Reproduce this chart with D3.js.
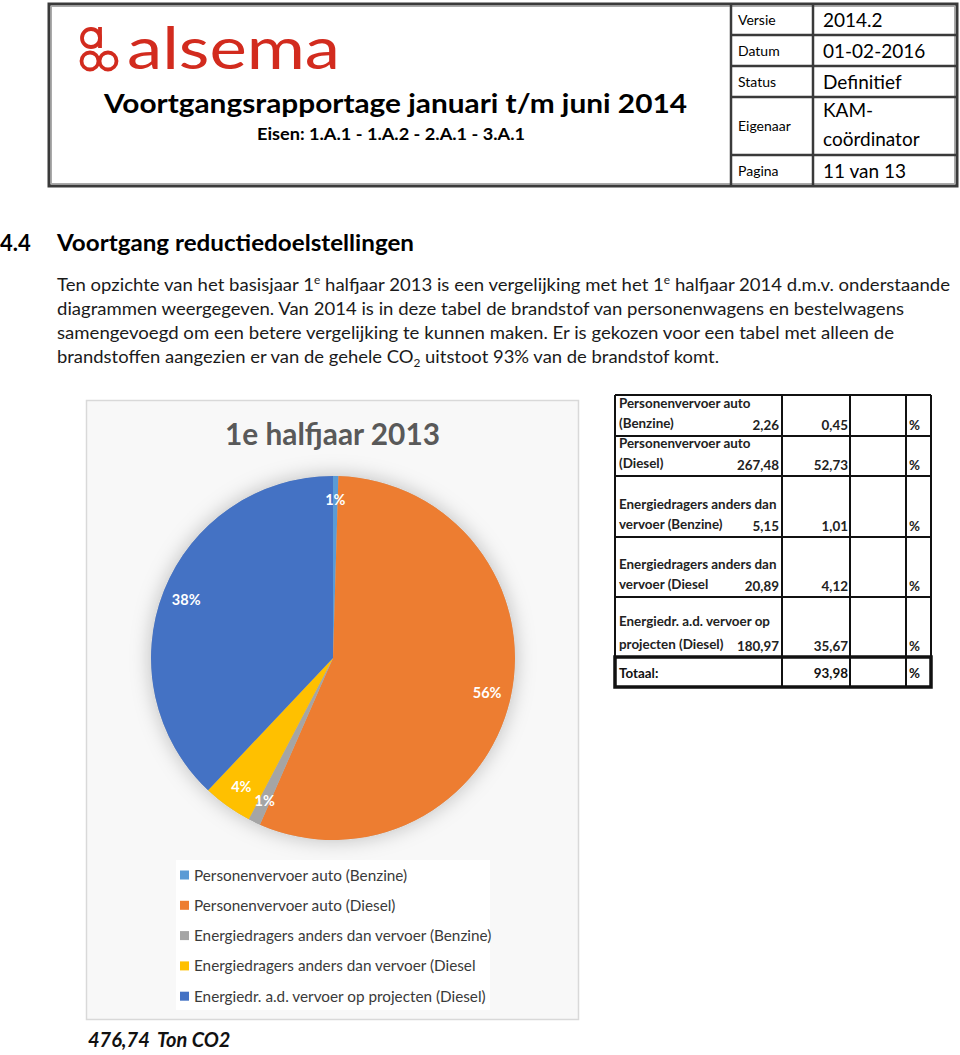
<!DOCTYPE html>
<html><head><meta charset="utf-8">
<script src="https://cdn.jsdelivr.net/npm/d3@7"></script>
<style>html,body{margin:0;padding:0;background:#fff;}svg{display:block;}</style>
</head><body>
<script>
// ---------- DATA ----------
const categories = [
  "Personenvervoer auto (Benzine)",
  "Personenvervoer auto (Diesel)",
  "Energiedragers anders dan vervoer (Benzine)",
  "Energiedragers anders dan vervoer (Diesel",
  "Energiedr. a.d. vervoer op projecten (Diesel)"
];
const tonValues = [2.26, 267.48, 5.15, 20.89, 180.97];
const pieLabels = ["1%", "56%", "1%", "4%", "38%"];
const colors = ["#5B9BD5", "#ED7D31", "#A5A5A5", "#FFC000", "#4472C4"];
const tableRowLabels = [
  ["Personenvervoer auto", "(Benzine)"],
  ["Personenvervoer auto", "(Diesel)"],
  ["Energiedragers anders dan", "vervoer (Benzine)"],
  ["Energiedragers anders dan", "vervoer (Diesel"],
  ["Energiedr. a.d. vervoer op", "projecten (Diesel)"]
];
const tableTons = ["2,26", "267,48", "5,15", "20,89", "180,97"];
const tablePcts = ["0,45", "52,73", "1,01", "4,12", "35,67"];
const tableTotal = "93,98";
const totalTon = "476,74";
const headerRows = [
  ["Versie", "2014.2"], ["Datum", "01-02-2016"], ["Status", "Definitief"],
  ["Eigenaar", "KAM-|coördinator"], ["Pagina", "11 van 13"]
];
const paragraphLines = [
  "Ten opzichte van het basisjaar 1|e| halfjaar 2013 is een vergelijking met het 1|e| halfjaar 2014 d.m.v. onderstaande",
  "diagrammen weergegeven. Van 2014 is in deze tabel de brandstof van personenwagens en bestelwagens",
  "samengevoegd om een betere vergelijking te kunnen maken. Er is gekozen voor een tabel met alleen de",
  "brandstoffen aangezien er van de gehele CO|2| uitstoot 93% van de brandstof komt."
];

// ---------- SVG ----------
const W = 960, H = 1055;
const svg = d3.select("body").append("svg").attr("width", W).attr("height", H);
const FONT = "Lato, 'Open Sans', sans-serif";

// ---------- HEADER ----------
const hdr = svg.append("g");
hdr.append("rect").attr("x", 49).attr("y", 4).attr("width", 908).attr("height", 182)
  .attr("fill", "#fff").attr("stroke", "#3a3a3a").attr("stroke-width", 3);
hdr.append("rect").attr("x", 51.5).attr("y", 6.5).attr("width", 903).attr("height", 177)
  .attr("fill", "none").attr("stroke", "#aaa").attr("stroke-width", 1);

// logo
const red = "#D22B1E";
const logo = hdr.append("g").attr("fill", "none").attr("stroke", red).attr("stroke-width", 3.8);
logo.append("circle").attr("cx", 91).attr("cy", 38).attr("r", 9);
logo.append("line").attr("x1", 100).attr("x2", 100).attr("y1", 27).attr("y2", 48);
logo.append("circle").attr("cx", 90).attr("cy", 61).attr("r", 8.5);
logo.append("circle").attr("cx", 108).attr("cy", 61).attr("r", 8.5);
hdr.append("text").attr("x", 127).attr("y", 69).attr("font-family", FONT).attr("font-size", 58)
  .attr("fill", red).attr("textLength", 213).attr("lengthAdjust", "spacingAndGlyphs").text("alsema");

hdr.append("text").attr("x", 104).attr("y", 113).attr("font-family", FONT).attr("font-weight", 700)
  .attr("font-size", 27).attr("fill", "#000").attr("textLength", 583).attr("lengthAdjust", "spacingAndGlyphs")
  .text("Voortgangsrapportage januari t/m juni 2014");
hdr.append("text").attr("x", 257).attr("y", 140).attr("font-family", FONT).attr("font-weight", 700)
  .attr("font-size", 17).attr("fill", "#000").attr("textLength", 268).attr("lengthAdjust", "spacingAndGlyphs")
  .text("Eisen: 1.A.1 - 1.A.2 - 2.A.1 - 3.A.1");

// header table
const hy = [4, 35, 66, 97, 155, 186];
const hx0 = 731, hx1 = 813, hx2 = 957;
const hl = hdr.append("g").attr("stroke", "#3a3a3a").attr("stroke-width", 2.5);
hl.append("line").attr("x1", hx0).attr("x2", hx0).attr("y1", hy[0]).attr("y2", hy[5]);
hl.append("line").attr("x1", hx1).attr("x2", hx1).attr("y1", hy[0]).attr("y2", hy[5]);
hl.selectAll("line.r").data(hy.slice(1, 5)).join("line").attr("class", "r")
  .attr("x1", hx0).attr("x2", hx2).attr("y1", d => d).attr("y2", d => d);
const hrows = hdr.selectAll("g.hr").data(headerRows).join("g").attr("class", "hr");
hrows.append("text").attr("x", 738)
  .attr("y", (d, i) => (hy[i] + hy[i + 1]) / 2 + 5)
  .attr("font-family", FONT).attr("font-size", 14).attr("fill", "#000").text(d => d[0]);
hrows.each(function (d, i) {
  const parts = d[1].split("|");
  const g = d3.select(this);
  const mid = (hy[i] + hy[i + 1]) / 2;
  parts.forEach((p, k) => {
    g.append("text").attr("x", 823).attr("y", parts.length === 1 ? mid + 7 : (k === 0 ? 117 : 146))
      .attr("font-family", FONT).attr("font-size", 19).attr("fill", "#000").text(p);
  });
});

// ---------- SECTION HEADING + PARAGRAPH ----------
svg.append("text").attr("x", 0).attr("y", 251).attr("font-family", FONT).attr("font-weight", 700)
  .attr("font-size", 22).attr("fill", "#000").text("4.4");
svg.append("text").attr("x", 57).attr("y", 251).attr("font-family", FONT).attr("font-weight", 700)
  .attr("font-size", 22).attr("fill", "#000").attr("textLength", 357).attr("lengthAdjust", "spacingAndGlyphs")
  .text("Voortgang reductiedoelstellingen");

const lineEnds = [950, 904, 894, 719];
const lineBase = [291, 315, 339, 363];
paragraphLines.forEach((ln, i) => {
  const t = svg.append("text").attr("x", 57).attr("y", lineBase[i]).attr("font-family", FONT)
    .attr("font-size", 17).attr("fill", "#1a1a1a")
    .attr("textLength", lineEnds[i] - 57).attr("lengthAdjust", "spacingAndGlyphs");
  const segs = ln.split("|");
  segs.forEach((s, k) => {
    if (k % 2 === 1) {
      const isSub = s === "2";
      t.append("tspan").attr("font-size", 11).attr("dy", isSub ? 4 : -7).text(s);
    } else {
      const ts = t.append("tspan").text(s);
      if (k > 0) { const prev = segs[k - 1]; ts.attr("dy", prev === "2" ? -4 : 7); }
    }
  });
});

// ---------- PIE CHART ----------
const defs = svg.append("defs");
const f = defs.append("filter").attr("id", "glow").attr("x", "-30%").attr("y", "-30%").attr("width", "160%").attr("height", "160%");
f.append("feDropShadow").attr("dx", 0).attr("dy", 0).attr("stdDeviation", 10)
  .attr("flood-color", "#000").attr("flood-opacity", 0.25);

svg.append("rect").attr("x", 86.5).attr("y", 400.5).attr("width", 492).attr("height", 619)
  .attr("fill", "#f8f8f8").attr("stroke", "#d9d9d9").attr("stroke-width", 1.5);

svg.append("text").attr("x", 225).attr("y", 445).attr("font-family", FONT).attr("font-weight", 700)
  .attr("font-size", 30).attr("fill", "#595959").attr("textLength", 215).attr("lengthAdjust", "spacingAndGlyphs")
  .text("1e halfjaar 2013");

const cx = 333, cy = 658, R = 182;
const pie = d3.pie().sort(null).value(d => d);
const arcs = pie(tonValues);
const arc = d3.arc().innerRadius(0).outerRadius(R);
const labelArc = d3.arc().innerRadius(158).outerRadius(158);
const pg = svg.append("g").attr("transform", `translate(${cx},${cy})`);
pg.append("circle").attr("r", R).attr("fill", "#bbb").attr("filter", "url(#glow)");
pg.selectAll("path").data(arcs).join("path").attr("d", arc)
  .attr("fill", (d, i) => colors[i]);
pg.selectAll("text").data(arcs).join("text")
  .attr("transform", d => `translate(${labelArc.centroid(d)})`)
  .attr("text-anchor", "middle").attr("dy", "0.35em")
  .attr("font-family", FONT).attr("font-weight", 700).attr("font-size", 14.5).attr("fill", "#fff")
  .text((d, i) => pieLabels[i]);

// legend
svg.append("rect").attr("x", 176).attr("y", 860).attr("width", 314).attr("height", 150).attr("fill", "#fff");
const leg = svg.selectAll("g.leg").data(categories).join("g").attr("class", "leg")
  .attr("transform", (d, i) => `translate(180, ${875 + i * 30.3})`);
leg.append("rect").attr("x", 0).attr("y", -4.5).attr("width", 9).attr("height", 9).attr("fill", (d, i) => colors[i]);
leg.append("text").attr("x", 14).attr("y", 5.5).attr("font-family", FONT).attr("font-size", 15.3)
  .attr("fill", "#3a3a3a").text(d => d);

svg.append("text").attr("x", 88).attr("y", 1047).attr("font-family", FONT).attr("font-weight", 700)
  .attr("font-style", "italic").attr("font-size", 20).attr("fill", "#111").text(totalTon);
svg.append("text").attr("x", 157).attr("y", 1047).attr("font-family", FONT).attr("font-weight", 700)
  .attr("font-style", "italic").attr("font-size", 20).attr("fill", "#111").text("Ton CO2");

// ---------- TABLE ----------
const tx = [615, 782, 850, 906, 931];
const ty = [395, 436, 476, 537, 597, 657, 687];
const tb = svg.append("g");
tb.selectAll("line.v").data(tx).join("line").attr("class", "v")
  .attr("x1", d => d).attr("x2", d => d).attr("y1", ty[0]).attr("y2", ty[6])
  .attr("stroke", "#111").attr("stroke-width", 2);
tb.selectAll("line.h").data(ty).join("line").attr("class", "h")
  .attr("x1", tx[0]).attr("x2", tx[4]).attr("y1", d => d).attr("y2", d => d)
  .attr("stroke", "#111").attr("stroke-width", 2);
tb.append("rect").attr("x", tx[0]).attr("y", ty[5]).attr("width", tx[4] - tx[0]).attr("height", ty[6] - ty[5])
  .attr("fill", "none").attr("stroke", "#111").attr("stroke-width", 3.5);

const FS = 13.4;
const trows = tb.selectAll("g.tr").data(tableRowLabels).join("g").attr("class", "tr");
trows.each(function (d, i) {
  const g = d3.select(this);
  const bottom = ty[i + 1];
  const l2 = bottom - 8, l1 = l2 - (i === 4 ? 23 : 20);
  const common = t => t.attr("font-family", FONT).attr("font-weight", 700).attr("font-size", FS).attr("fill", "#222");
  common(g.append("text").attr("x", 619).attr("y", l1).text(d[0]));
  common(g.append("text").attr("x", 619).attr("y", l2).text(d[1]));
  common(g.append("text").attr("x", 779).attr("y", bottom - 6).attr("text-anchor", "end").text(tableTons[i]));
  common(g.append("text").attr("x", 848).attr("y", bottom - 6).attr("text-anchor", "end").text(tablePcts[i]));
  common(g.append("text").attr("x", 909).attr("y", bottom - 6).text("%"));
});
const tt = t => t.attr("font-family", FONT).attr("font-weight", 700).attr("font-size", FS).attr("fill", "#111");
tt(tb.append("text").attr("x", 619).attr("y", 678).text("Totaal:"));
tt(tb.append("text").attr("x", 848).attr("y", 678).attr("text-anchor", "end").attr("font-weight", 900).text(tableTotal));
tt(tb.append("text").attr("x", 909).attr("y", 678).text("%"));
</script>
</body></html>
